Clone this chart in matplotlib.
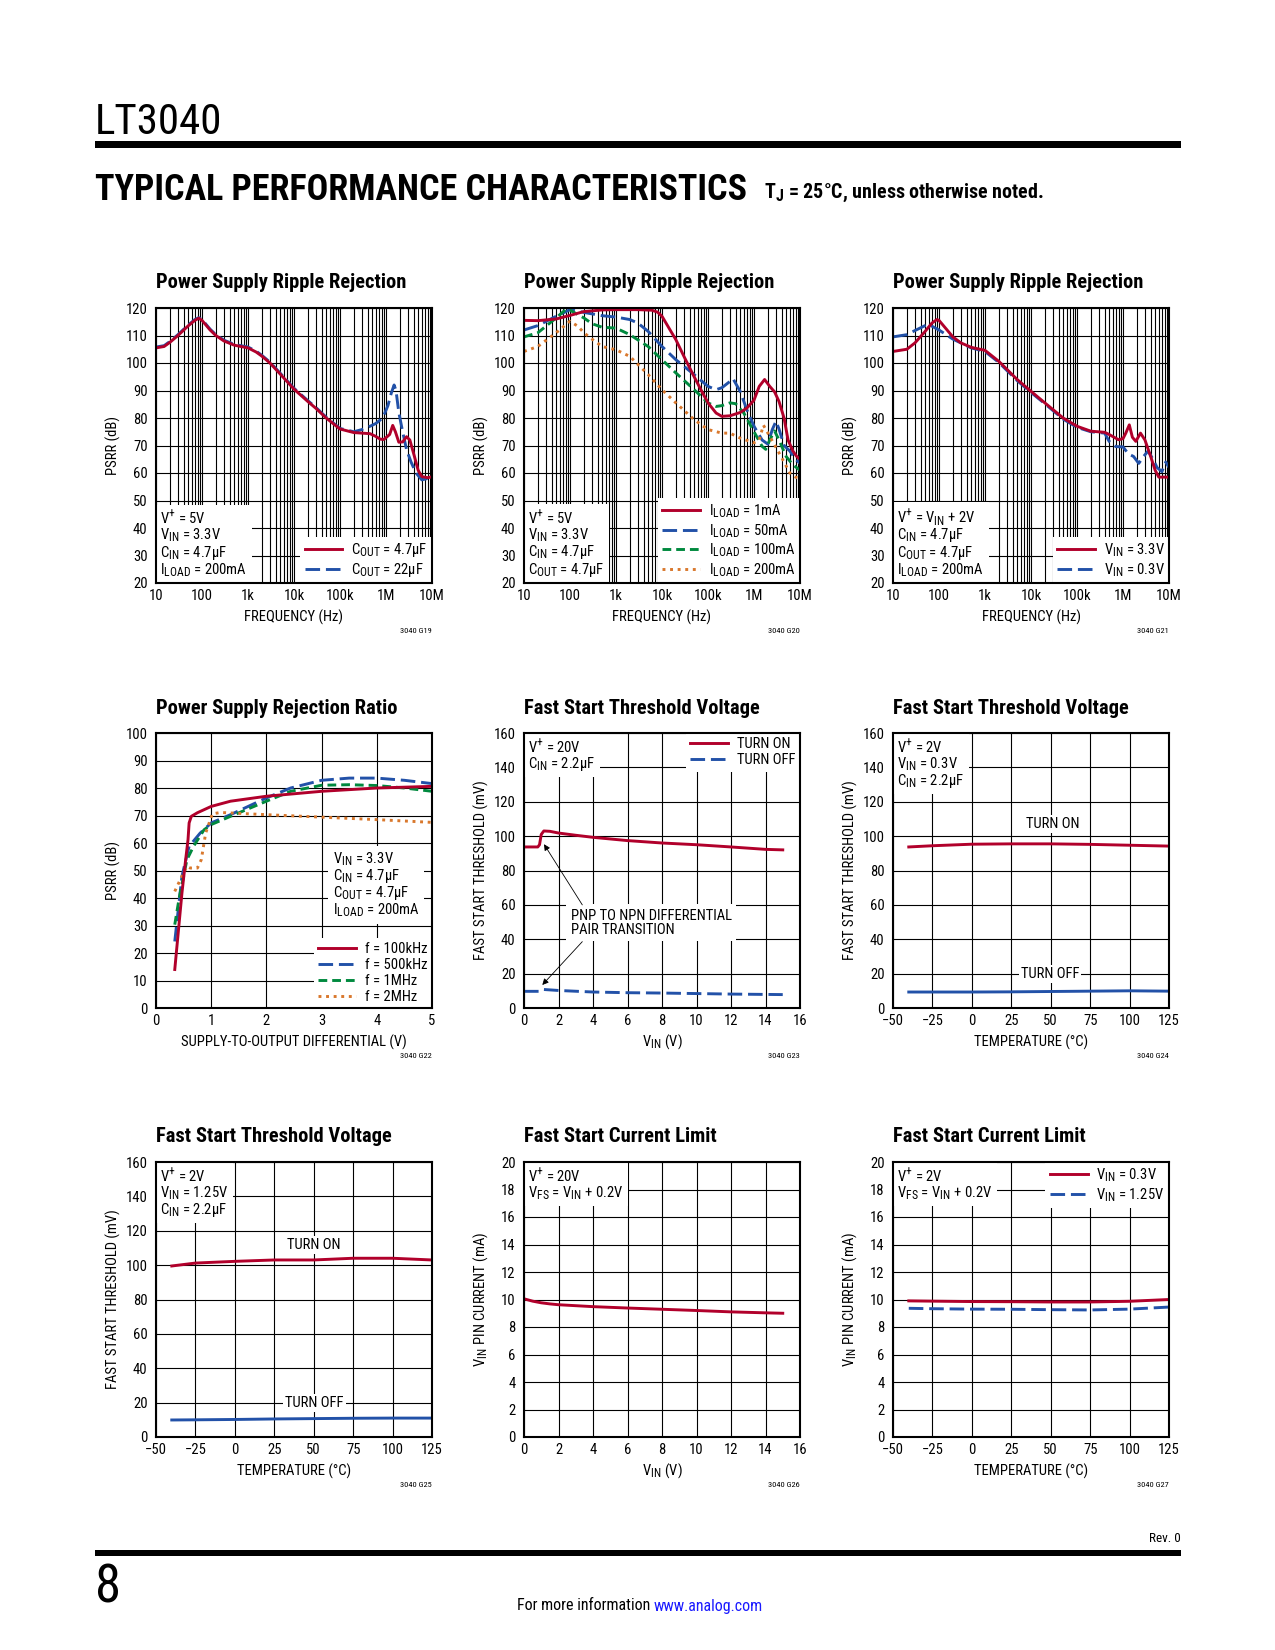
import matplotlib
matplotlib.use('Agg')
import matplotlib.pyplot as plt
import matplotlib._mathtext as mathtext_internal
from matplotlib import font_manager
from matplotlib.offsetbox import AnchoredText
from matplotlib.patches import Rectangle
from matplotlib.ticker import LogLocator, NullFormatter

# ---------------- data ----------------
freq_ticks = [10, 100, 1e3, 1e4, 1e5, 1e6, 1e7]
freq_labels = ['10', '100', '1k', '10k', '100k', '1M', '10M']

# G19: PSRR vs frequency, COUT
g19_f_47 = [10, 15, 20, 30, 50, 70, 85, 100, 150, 200, 300, 500, 700, 1e3, 1.5e3, 2e3, 3e3, 5e3, 1e4, 2e4,
            3e4, 5e4, 1e5, 2e5, 4.5e5, 6e5, 7.5e5, 9e5, 1.2e6, 1.4e6, 1.6e6, 1.9e6, 2.3e6, 2.8e6, 3.3e6,
            4e6, 5e6, 6e6, 8e6, 1e7]
g19_psrr_47 = [105.5, 106, 107.5, 110, 113.5, 115.5, 116.3, 115.5, 112, 110, 108, 106.5, 106, 105.5, 104,
               102.5, 100, 96, 90.5, 86, 83.5, 80, 76, 74.7, 74.3, 73.3, 72.3, 72.2, 74, 77.3, 75, 71.2,
               71.3, 73.2, 72, 67, 61, 58.7, 58.3, 58.6]
g19_f_22 = [10, 15, 20, 30, 50, 70, 85, 100, 150, 200, 300, 500, 700, 1e3, 1.5e3, 2e3, 3e3, 5e3, 1e4, 2e4,
            3e4, 5e4, 1e5, 2e5, 3e5, 4.5e5, 6e5, 7.5e5, 9e5, 1.1e6, 1.3e6, 1.5e6, 1.65e6, 1.9e6, 2.3e6,
            2.8e6, 3.5e6, 4.5e6, 6e6, 8e6, 1e7]
g19_psrr_22 = [105.8, 106.3, 107.8, 110.3, 113.8, 115.8, 116.5, 115.8, 112.3, 110.3, 108.3, 106.8, 106.3,
               105.8, 104.3, 102.8, 100.3, 96.3, 90.8, 86.3, 83.8, 80.3, 76.2, 75, 75.8, 77, 78, 79.3, 81,
               84.5, 89, 92, 90, 82, 75, 68.5, 64, 60, 57.5, 58, 58.3]

# G20: PSRR vs frequency, ILOAD
g20_f_1 = [10, 20, 50, 100, 200, 500, 1e3, 3e3, 6e3, 8e3, 1e4, 1.5e4, 2e4, 3e4, 5e4, 7e4, 1e5, 1.5e5, 2e5,
           3e5, 5e5, 7e5, 1e6, 1.3e6, 1.7e6, 2.2e6, 2.8e6, 3.5e6, 4.5e6, 5.5e6, 7e6, 8.5e6, 1e7]
g20_psrr_1 = [115.5, 115.4, 116, 117.3, 118.7, 119.3, 119.4, 119.4, 119.2, 118.5, 117, 112, 108.5, 102.4,
              95, 90.3, 85.5, 81.8, 80.6, 80.8, 82, 83.6, 86.5, 91.5, 94, 91.5, 89.5, 86, 80, 72, 68,
              66, 65]
g20_f_50 = [10, 20, 50, 100, 200, 500, 1e3, 2e3, 3e3, 5e3, 1e4, 2e4, 5e4, 1e5, 1.5e5, 2e5, 3e5, 3.5e5, 5e5,
            7e5, 1e6, 1.5e6, 2e6, 2.5e6, 3e6, 3.5e6, 4.5e6, 6e6, 8e6, 1e7]
g20_psrr_50 = [112, 113.6, 117, 119.4, 118.4, 117.2, 116.7, 115.8, 114.5, 111.5, 106, 101.2, 95.8, 91.5,
               90.3, 91, 93.3, 94.3, 89.7, 83, 77, 72, 70.5, 75.8, 78.8, 76, 70, 68, 65, 63.5]
g20_f_100 = [10, 20, 50, 80, 100, 200, 300, 500, 1e3, 2e3, 5e3, 1e4, 2e4, 5e4, 1e5, 1.5e5, 2e5, 3e5, 4e5,
             6e5, 1e6, 1.5e6, 1.8e6, 2.2e6, 2.8e6, 3.5e6, 5e6, 7e6, 1e7]
g20_psrr_100 = [109.5, 111, 116.4, 119.4, 119.2, 116.4, 114.3, 113, 112.7, 110.3, 106, 101.2, 96.4, 90.3,
                85.5, 84.2, 84.5, 85.5, 85.2, 81.8, 75, 69.7, 68.6, 72, 75.3, 72, 66, 63, 61]
g20_f_200 = [10, 20, 50, 100, 150, 200, 300, 500, 1e3, 2e3, 5e3, 1e4, 2e4, 5e4, 1e5, 2e5, 3e5, 5e5, 1e6,
             1.3e6, 1.6e6, 2.2e6, 3.2e6, 4.5e6, 6e6, 8e6, 1e7]
g20_psrr_200 = [104.2, 106, 111, 115.2, 113.3, 111, 108.7, 106, 104.8, 102.4, 95.8, 90.3, 85.5, 79.4, 75.8,
                74.5, 74.5, 72.7, 71, 72, 77.4, 73.3, 68.5, 64, 60, 58.5, 58]

# G21: PSRR vs frequency, VIN
g21_f_33 = [10, 20, 30, 50, 70, 90, 100, 150, 200, 300, 500, 1e3, 2e3, 5e3, 1e4, 2e4, 5e4, 1e5, 2e5, 4e5,
            5e5, 8e5, 1e6, 1.15e6, 1.37e6, 1.6e6, 1.9e6, 2.4e6, 3e6, 4e6, 5e6, 6e6, 8e6, 1e7]
g21_psrr_33 = [104.2, 105, 107.3, 111.5, 114.5, 115.8, 115.5, 112, 109.5, 107.3, 105.7, 104.6, 100.6, 94,
               89.7, 85.5, 80, 77, 75.2, 74.8, 74, 72.1, 72.5, 74.5, 77.5, 73, 71.5, 74.5, 72, 66, 61,
               58.5, 58.5, 58.5]
g21_f_03 = [10, 20, 30, 50, 60, 100, 200, 500, 1e3, 2e3, 5e3, 1e4, 2e4, 5e4, 1e5, 2e5, 4e5, 5e5, 7e5, 1e6,
            1.3e6, 1.7e6, 2.2e6, 2.8e6, 3.5e6, 4.5e6, 5.5e6, 7e6, 8.5e6, 1e7]
g21_psrr_03 = [109.5, 110.3, 111.8, 113.6, 114, 112, 108.7, 105.5, 104.2, 100.2, 93.6, 89.3, 85.2, 79.6,
               76.6, 75, 74.5, 71.5, 69.6, 69.5, 67, 66, 63.5, 66, 68, 65, 62, 60.5, 64, 62]

# G22: PSRR vs supply-to-output differential
g22_x_100k = [0.34, 0.47, 0.53, 0.58, 0.6, 0.64, 0.75, 1.0, 1.35, 2.0, 3.0, 4.0, 5.0]
g22_y_100k = [14, 41.8, 52.7, 61.2, 67.3, 69.7, 71, 73.3, 75.2, 77, 78.8, 80, 80.6]
g22_x_500k = [0.34, 0.47, 0.6, 0.8, 1.0, 1.35, 2.0, 2.44, 3.0, 3.5, 4.0, 4.5, 5.0]
g22_y_500k = [24.2, 47.9, 58.8, 63.6, 67.3, 70.3, 76.4, 80, 82.8, 83.6, 83.6, 82.8, 81.6]
g22_x_1m = [0.34, 0.42, 0.56, 0.68, 0.87, 1.0, 1.35, 2.0, 2.44, 3.0, 3.5, 4.0, 4.5, 5.0]
g22_y_1m = [30.3, 40, 53.9, 58.8, 64.8, 66.7, 69.7, 75.2, 78.8, 81, 81.2, 80.9, 80, 78.8]
g22_x_2m = [0.34, 0.44, 0.56, 0.62, 0.75, 0.82, 0.9, 1.02, 1.17, 2.0, 3.0, 4.0, 5.0]
g22_y_2m = [42.4, 46.7, 51.5, 50.9, 50.9, 53.9, 63.6, 70.6, 71.1, 70.3, 69.4, 68.5, 67.5]

# G23: fast start threshold vs VIN
g23_vin_on = [0, 0.8, 0.9, 1.0, 1.15, 1.5, 2, 3, 4, 6, 8, 10, 12, 14, 15]
g23_on = [93.7, 93.7, 95, 101, 103, 102.8, 101.8, 100.5, 99.3, 97.4, 96, 95, 93.7, 92.3, 92]
g23_vin_off = [0, 0.85, 0.95, 1.1, 2, 4, 6, 8, 10, 12, 14, 15]
g23_off = [9.7, 9.7, 10.4, 10.8, 10.2, 9.3, 8.9, 8.7, 8.4, 8.1, 7.9, 7.8]

# G24 / G25: fast start threshold vs temperature
temps = [-40, -25, 0, 25, 50, 75, 100, 125]
g24_on = [93.7, 94.4, 95.3, 95.5, 95.5, 95.2, 94.7, 94.2]
g24_off = [9.3, 9.3, 9.3, 9.4, 9.6, 9.8, 10.0, 9.8]
g25_on = [99.5, 101.2, 102.2, 103, 103, 104, 104, 103]
g25_off = [9.9, 10.0, 10.2, 10.5, 10.7, 10.9, 11.0, 11.0]

# G26: fast start current limit vs VIN
g26_vin = [0, 0.5, 1, 1.5, 2, 3, 4, 6, 8, 10, 12, 14, 15]
g26_cur = [10.05, 9.88, 9.76, 9.68, 9.62, 9.55, 9.48, 9.38, 9.29, 9.2, 9.1, 9.03, 9.0]

# G27: fast start current limit vs temperature
g27_03 = [9.9, 9.88, 9.85, 9.84, 9.82, 9.82, 9.87, 10.0]
g27_125 = [9.36, 9.33, 9.3, 9.29, 9.26, 9.24, 9.3, 9.45]

# ---------------- style ----------------
names = {f.name for f in font_manager.fontManager.ttflist}


def pick(*cands):
    for c in cands:
        if c in names:
            return c
    return 'DejaVu Sans'


narrow = pick('Roboto Condensed', 'Liberation Sans Narrow', 'DejaVu Sans Condensed', 'Liberation Sans')
plt.rcParams['font.family'] = [narrow, 'DejaVu Sans']
# datasheet subscripts are only slightly smaller than the body text
mathtext_internal.SHRINK_FACTOR = 0.8

RED = '#b1002b'
BLUE = '#2251a8'
GREEN = '#00893e'
ORANGE = '#d9782d'
LW = 2.1
FS = 10.5

W, H = 1275, 1650
fig = plt.figure(figsize=(W / 100, H / 100), dpi=100)
renderer = fig.canvas.get_renderer()

lefts = [156, 524, 893]
tops = [308, 733, 1162]
AW, AH = 276, 275


def fx(px):
    return px / W


def fy(py):
    return 1 - py / H


def sub(base, s):
    return base + r'$_{\mathregular{' + s + '}}$'


VP = r'V$^{\mathregular{+}}$'


def make_ax(r, c, title, xlabel, ylabel, code):
    ax = fig.add_axes([fx(lefts[c]), fy(tops[r] + AH), AW / W, AH / H])
    for s in ax.spines.values():
        s.set_linewidth(1.5)
        s.set_zorder(6)
    ax.set_axisbelow(True)
    ax.tick_params(which='both', length=0, labelsize=10.5, pad=4.5)
    ax.tick_params(axis='y', pad=6)
    ax.text(0, 1 + 25 / AH, title, transform=ax.transAxes, ha='left', va='center',
            fontsize=14.8, fontweight='bold')
    ax.text(0.5, -34 / AH, xlabel, transform=ax.transAxes, ha='center', va='center', fontsize=FS)
    ax.text(-43 / AW, 0.5, ylabel, transform=ax.transAxes, ha='center', va='center',
            rotation=90, fontsize=FS)
    ax.text(1, -48 / AH, code, transform=ax.transAxes, ha='right', va='center', fontsize=6)
    return ax


def grid(ax):
    ax.grid(True, which='both', color='black', lw=0.8)


def info(ax, lines, loc):
    at = AnchoredText('\n'.join(lines), loc=loc, frameon=True, pad=0.3, borderpad=0,
                      prop=dict(size=FS, linespacing=0.95))
    at.patch.set_facecolor('white')
    at.patch.set_edgecolor('none')
    at.set_zorder(3)
    ax.add_artist(at)


def legend(ax, loc, handles=None, labels=None):
    if handles is None:
        handles, labels = ax.get_legend_handles_labels()
    leg = ax.legend(handles, labels, loc=loc, frameon=True, fancybox=False, borderaxespad=0,
                    handlelength=2.6, handletextpad=0.6, labelspacing=0.12, borderpad=0.3,
                    fontsize=FS, framealpha=1)
    leg.get_frame().set_facecolor('white')
    leg.get_frame().set_edgecolor('none')
    leg.set_zorder(3)


def freq_axes(ax):
    ax.set_xscale('log')
    ax.set_xlim(10, 1e7)
    ax.set_ylim(20, 120)
    ax.set_xticks(freq_ticks, freq_labels)
    ax.xaxis.set_minor_locator(LogLocator(base=10, subs=range(2, 10), numticks=100))
    ax.xaxis.set_minor_formatter(NullFormatter())
    ax.set_yticks(range(20, 121, 10))
    grid(ax)


# ---------------- row 1 ----------------
ax = make_ax(0, 0, 'Power Supply Ripple Rejection', 'FREQUENCY (Hz)', 'PSRR (dB)', '3040 G19')
freq_axes(ax)
blue_line, = ax.plot(g19_f_22, g19_psrr_22, color=BLUE, lw=LW, dashes=(5, 2), zorder=4)
red_line, = ax.plot(g19_f_47, g19_psrr_47, color=RED, lw=LW, zorder=5)
legend(ax, 'lower right', [red_line, blue_line],
       [sub('C', 'OUT') + ' = 4.7µF', sub('C', 'OUT') + ' = 22µF'])
info(ax, [VP + ' = 5V', sub('V', 'IN') + ' = 3.3V', sub('C', 'IN') + ' = 4.7µF',
          sub('I', 'LOAD') + ' = 200mA'], 'lower left')

ax = make_ax(0, 1, 'Power Supply Ripple Rejection', 'FREQUENCY (Hz)', 'PSRR (dB)', '3040 G20')
freq_axes(ax)
ax.plot(g20_f_1, g20_psrr_1, color=RED, lw=LW, zorder=5, label=sub('I', 'LOAD') + ' = 1mA')
ax.plot(g20_f_50, g20_psrr_50, color=BLUE, lw=LW, dashes=(5, 2), zorder=4, label=sub('I', 'LOAD') + ' = 50mA')
ax.plot(g20_f_100, g20_psrr_100, color=GREEN, lw=LW, dashes=(3, 1.7), zorder=4,
        label=sub('I', 'LOAD') + ' = 100mA')
ax.plot(g20_f_200, g20_psrr_200, color=ORANGE, lw=LW, dashes=(1, 1.6), zorder=4,
        label=sub('I', 'LOAD') + ' = 200mA')
legend(ax, 'lower right')
info(ax, [VP + ' = 5V', sub('V', 'IN') + ' = 3.3V', sub('C', 'IN') + ' = 4.7µF',
          sub('C', 'OUT') + ' = 4.7µF'], 'lower left')

ax = make_ax(0, 2, 'Power Supply Ripple Rejection', 'FREQUENCY (Hz)', 'PSRR (dB)', '3040 G21')
freq_axes(ax)
ax.plot(g21_f_33, g21_psrr_33, color=RED, lw=LW, zorder=5, label=sub('V', 'IN') + ' = 3.3V')
ax.plot(g21_f_03, g21_psrr_03, color=BLUE, lw=LW, dashes=(5, 2), zorder=4, label=sub('V', 'IN') + ' = 0.3V')
legend(ax, 'lower right')
info(ax, [VP + ' = ' + sub('V', 'IN') + ' + 2V', sub('C', 'IN') + ' = 4.7µF', sub('C', 'OUT') + ' = 4.7µF',
          sub('I', 'LOAD') + ' = 200mA'], 'lower left')

# ---------------- row 2 ----------------
ax = make_ax(1, 0, 'Power Supply Rejection Ratio', 'SUPPLY-TO-OUTPUT DIFFERENTIAL (V)', 'PSRR (dB)', '3040 G22')
ax.set_xlim(0, 5)
ax.set_ylim(0, 100)
ax.set_xticks(range(0, 6))
ax.set_yticks(range(0, 101, 10))
grid(ax)
ax.plot(g22_x_100k, g22_y_100k, color=RED, lw=LW, zorder=5, label='f = 100kHz')
ax.plot(g22_x_500k, g22_y_500k, color=BLUE, lw=LW, dashes=(5, 2), zorder=4, label='f = 500kHz')
ax.plot(g22_x_1m, g22_y_1m, color=GREEN, lw=LW, dashes=(3, 1.7), zorder=4, label='f = 1MHz')
ax.plot(g22_x_2m, g22_y_2m, color=ORANGE, lw=LW, dashes=(1, 1.6), zorder=4, label='f = 2MHz')
legend(ax, 'lower right')
ax.text(0.64, 0.575, '\n'.join([sub('V', 'IN') + ' = 3.3V', sub('C', 'IN') + ' = 4.7µF',
                                 sub('C', 'OUT') + ' = 4.7µF', sub('I', 'LOAD') + ' = 200mA']),
        transform=ax.transAxes, ha='left', va='top', fontsize=FS, linespacing=0.95, zorder=3,
        bbox=dict(facecolor='white', edgecolor='none', pad=3))

ax = make_ax(1, 1, 'Fast Start Threshold Voltage', sub('V', 'IN') + ' (V)', 'FAST START THRESHOLD (mV)', '3040 G23')
ax.set_xlim(0, 16)
ax.set_ylim(0, 160)
ax.set_xticks(range(0, 17, 2))
ax.set_yticks(range(0, 161, 20))
grid(ax)
ax.plot(g23_vin_on, g23_on, color=RED, lw=LW, zorder=5, label='TURN ON')
ax.plot(g23_vin_off, g23_off, color=BLUE, lw=LW, dashes=(5, 2), zorder=4, label='TURN OFF')
legend(ax, 'upper right')
info(ax, [VP + ' = 20V', sub('C', 'IN') + ' = 2.2µF'], 'upper left')
ax.text(2.7, 49.5, 'PNP TO NPN DIFFERENTIAL\nPAIR TRANSITION', ha='left', va='center', fontsize=FS,
        linespacing=1.05, zorder=3, bbox=dict(facecolor='white', edgecolor='none', pad=3))
arrow = dict(arrowstyle='-|>', color='black', lw=0.6, mutation_scale=9, shrinkA=0, shrinkB=0)
ax.annotate('', xy=(1.16, 95.3), xytext=(3.38, 60), arrowprops=arrow, zorder=4)
ax.annotate('', xy=(1.06, 13.4), xytext=(3.38, 38.6), arrowprops=arrow, zorder=4)

ax = make_ax(1, 2, 'Fast Start Threshold Voltage', 'TEMPERATURE (°C)', 'FAST START THRESHOLD (mV)', '3040 G24')
ax.set_xlim(-50, 125)
ax.set_ylim(0, 160)
ax.set_xticks(range(-50, 126, 25))
ax.set_yticks(range(0, 161, 20))
grid(ax)
ax.plot(temps, g24_on, color=RED, lw=LW, zorder=5)
ax.plot(temps, g24_off, color=BLUE, lw=LW, zorder=4)
info(ax, [VP + ' = 2V', sub('V', 'IN') + ' = 0.3V', sub('C', 'IN') + ' = 2.2µF'], 'upper left')
ax.text(51.5, 107, 'TURN ON', ha='center', va='center', fontsize=FS, zorder=3,
        bbox=dict(facecolor='white', edgecolor='none', pad=1.5))
ax.text(49.5, 20, 'TURN OFF', ha='center', va='center', fontsize=FS, zorder=3,
        bbox=dict(facecolor='white', edgecolor='none', pad=1.5))

# ---------------- row 3 ----------------
ax = make_ax(2, 0, 'Fast Start Threshold Voltage', 'TEMPERATURE (°C)', 'FAST START THRESHOLD (mV)', '3040 G25')
ax.set_xlim(-50, 125)
ax.set_ylim(0, 160)
ax.set_xticks(range(-50, 126, 25))
ax.set_yticks(range(0, 161, 20))
grid(ax)
ax.plot(temps, g25_on, color=RED, lw=LW, zorder=5)
ax.plot(temps, g25_off, color=BLUE, lw=LW, zorder=4)
info(ax, [VP + ' = 2V', sub('V', 'IN') + ' = 1.25V', sub('C', 'IN') + ' = 2.2µF'], 'upper left')
ax.text(50, 111.5, 'TURN ON', ha='center', va='center', fontsize=FS, zorder=3,
        bbox=dict(facecolor='white', edgecolor='none', pad=1.5))
ax.text(50.5, 20, 'TURN OFF', ha='center', va='center', fontsize=FS, zorder=3,
        bbox=dict(facecolor='white', edgecolor='none', pad=1.5))

ax = make_ax(2, 1, 'Fast Start Current Limit', sub('V', 'IN') + ' (V)', sub('V', 'IN') + ' PIN CURRENT (mA)', '3040 G26')
ax.set_xlim(0, 16)
ax.set_ylim(0, 20)
ax.set_xticks(range(0, 17, 2))
ax.set_yticks(range(0, 21, 2))
grid(ax)
ax.plot(g26_vin, g26_cur, color=RED, lw=LW, zorder=5)
info(ax, [VP + ' = 20V', sub('V', 'FS') + ' = ' + sub('V', 'IN') + ' + 0.2V'], 'upper left')

ax = make_ax(2, 2, 'Fast Start Current Limit', 'TEMPERATURE (°C)', sub('V', 'IN') + ' PIN CURRENT (mA)', '3040 G27')
ax.set_xlim(-50, 125)
ax.set_ylim(0, 20)
ax.set_xticks(range(-50, 126, 25))
ax.set_yticks(range(0, 21, 2))
grid(ax)
ax.plot(temps, g27_03, color=RED, lw=LW, zorder=5, label=sub('V', 'IN') + ' = 0.3V')
ax.plot(temps, g27_125, color=BLUE, lw=LW, dashes=(5, 2), zorder=4, label=sub('V', 'IN') + ' = 1.25V')
legend(ax, 'upper right')
info(ax, [VP + ' = 2V', sub('V', 'FS') + ' = ' + sub('V', 'IN') + ' + 0.2V'], 'upper left')

# ---------------- page header / footer ----------------
fig.text(fx(95), fy(122), 'LT3040', fontsize=31, ha='left', va='center')
fig.add_artist(Rectangle((fx(95), fy(147.5)), fx(1181) - fx(95), 6.5 / H, transform=fig.transFigure,
                         color='black', lw=0))
head = fig.text(fx(95), fy(190), 'TYPICAL PERFORMANCE CHARACTERISTICS', fontsize=26, fontweight='bold',
                ha='left', va='center')
w = head.get_window_extent(renderer).width
head.set_fontsize(26 * (652 / w))
note = fig.text(fx(764), fy(193), sub('T', 'J') + ' = 25°C, unless otherwise noted.', fontsize=13,
                fontweight='bold', ha='left', va='center')
w = note.get_window_extent(renderer).width
note.set_fontsize(13 * (280 / w))

fig.add_artist(Rectangle((fx(95), fy(1556)), fx(1181) - fx(95), 6.5 / H, transform=fig.transFigure,
                         color='black', lw=0))
fig.text(fx(95), fy(1588), '8', fontsize=38, ha='left', va='center')
fig.text(fx(1181), fy(1538), 'Rev. 0', fontsize=9.5, ha='right', va='center')
fig.text(fx(650), fy(1606), 'For more information', fontsize=11.5, ha='right', va='center')
fig.text(fx(654), fy(1606), 'www.analog.com', fontsize=11.5, ha='left', va='center', color='#1a1aff')

fig.savefig('out.png', dpi=100)
